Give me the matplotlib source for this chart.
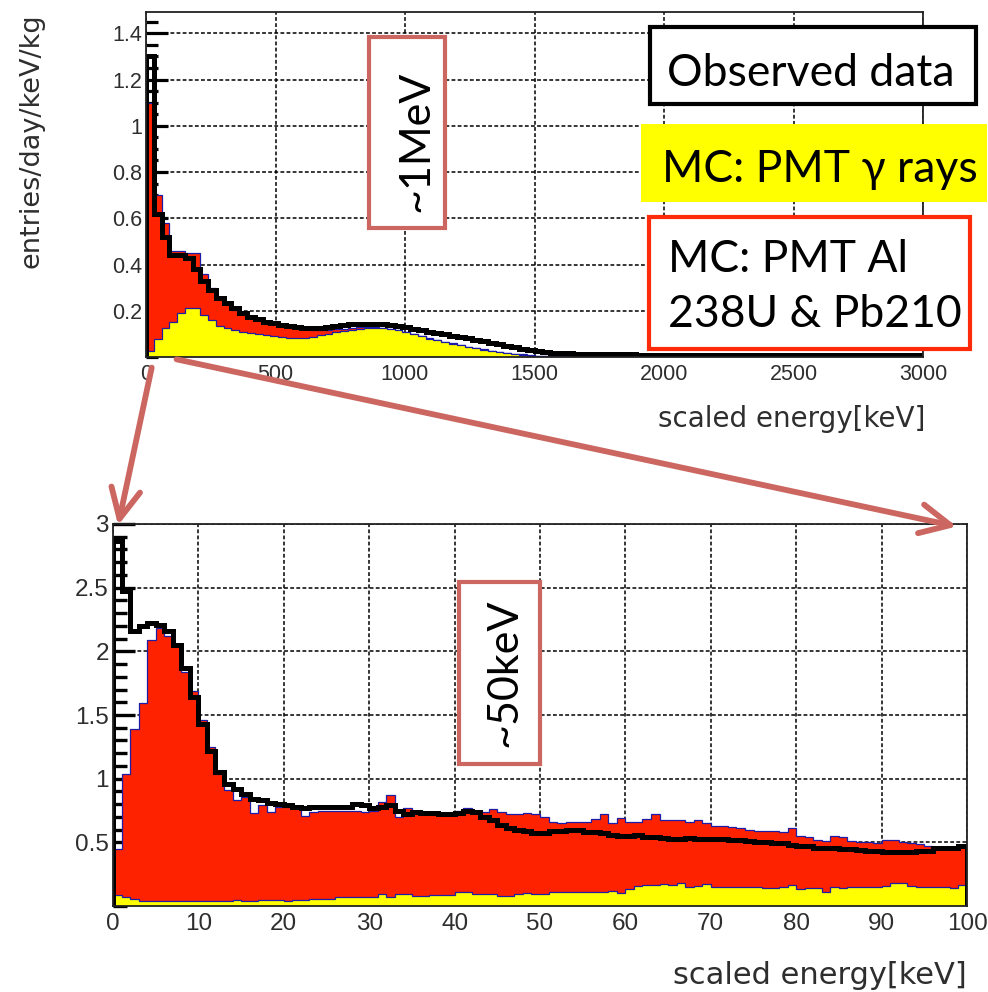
import numpy as np
import matplotlib
matplotlib.use("Agg")
import matplotlib.pyplot as plt
from matplotlib.patches import Rectangle, ConnectionPatch
from matplotlib.ticker import MultipleLocator

# ---------------- data: upper panel (30 keV bins, 0-3000 keV) ----------------
top_gamma = [0.026, 0.078, 0.127, 0.150, 0.190, 0.214, 0.214, 0.180, 0.160, 0.135,
             0.125, 0.115, 0.110, 0.105, 0.100, 0.095, 0.090, 0.086, 0.084, 0.082,
             0.083, 0.088, 0.093, 0.099, 0.106, 0.112, 0.118, 0.122, 0.125, 0.125,
             0.124, 0.120, 0.115, 0.106, 0.098, 0.090, 0.080, 0.072, 0.065, 0.058,
             0.051, 0.043, 0.037, 0.031, 0.026, 0.020, 0.016, 0.012, 0.009, 0.006,
             0.004, 0.003, 0.003, 0.002, 0.002, 0.001] + [0.0] * 44

top_total = [1.100, 0.700, 0.580, 0.460, 0.460, 0.450, 0.450, 0.360, 0.300, 0.260,
             0.230, 0.205, 0.185, 0.168, 0.158, 0.150, 0.143, 0.137, 0.130, 0.125,
             0.120, 0.117, 0.116, 0.117, 0.120, 0.123, 0.126, 0.129, 0.130, 0.129,
             0.127, 0.123, 0.118, 0.109, 0.100, 0.092, 0.082, 0.074, 0.067, 0.060,
             0.053, 0.045, 0.039, 0.033, 0.028, 0.022, 0.018, 0.014, 0.011, 0.008,
             0.006, 0.005, 0.004, 0.003, 0.003, 0.002, 0.002, 0.001, 0.001, 0.001] + [0.0] * 40

top_data = [1.300, 0.620, 0.520, 0.440, 0.440, 0.430, 0.380, 0.330, 0.290, 0.255,
            0.232, 0.210, 0.190, 0.175, 0.163, 0.153, 0.147, 0.140, 0.135, 0.130,
            0.127, 0.125, 0.126, 0.130, 0.135, 0.139, 0.142, 0.143, 0.143, 0.143,
            0.143, 0.140, 0.134, 0.128, 0.122, 0.116, 0.110, 0.104, 0.098, 0.092,
            0.087, 0.081, 0.074, 0.068, 0.062, 0.055, 0.048, 0.042, 0.036, 0.031,
            0.026, 0.022, 0.019, 0.017, 0.016, 0.014, 0.013, 0.012, 0.012, 0.011,
            0.011, 0.011, 0.011, 0.010, 0.010, 0.010, 0.010, 0.010, 0.009, 0.009,
            0.009, 0.009, 0.009, 0.009, 0.008, 0.008, 0.008, 0.008, 0.008, 0.008,
            0.008, 0.008, 0.008, 0.008, 0.007, 0.007, 0.007, 0.007, 0.007, 0.007,
            0.007, 0.007, 0.007, 0.007, 0.007, 0.007, 0.007, 0.007, 0.007, 0.007]

# ---------------- data: lower panel (1 keV bins, 0-100 keV) ----------------
low_gamma = [0.086, 0.070, 0.055, 0.042, 0.042, 0.042, 0.042, 0.042, 0.042, 0.042,
             0.042, 0.042, 0.042, 0.042, 0.050, 0.042, 0.042, 0.050, 0.045, 0.045,
             0.042, 0.050, 0.050, 0.052, 0.052, 0.052, 0.073, 0.073, 0.073, 0.073,
             0.073, 0.094, 0.073, 0.092, 0.092, 0.080, 0.080, 0.086, 0.086, 0.086,
             0.107, 0.107, 0.094, 0.094, 0.094, 0.080, 0.080, 0.094, 0.104, 0.094,
             0.094, 0.110, 0.110, 0.110, 0.110, 0.110, 0.110, 0.110, 0.117, 0.104,
             0.135, 0.157, 0.165, 0.165, 0.170, 0.165, 0.178, 0.152, 0.160, 0.170,
             0.146, 0.152, 0.146, 0.152, 0.146, 0.152, 0.139, 0.139, 0.146, 0.165,
             0.131, 0.139, 0.139, 0.113, 0.146, 0.139, 0.152, 0.152, 0.146, 0.152,
             0.157, 0.178, 0.183, 0.157, 0.146, 0.152, 0.152, 0.146, 0.139, 0.165]

low_total = [0.450, 1.040, 1.390, 1.595, 2.090, 2.180, 2.120, 2.060, 1.840, 1.690,
             1.460, 1.250, 1.040, 0.910, 0.830, 0.855, 0.727, 0.790, 0.740, 0.780,
             0.780, 0.780, 0.710, 0.740, 0.750, 0.750, 0.750, 0.750, 0.750, 0.740,
             0.750, 0.820, 0.870, 0.700, 0.770, 0.750, 0.740, 0.730, 0.730, 0.730,
             0.750, 0.770, 0.750, 0.740, 0.760, 0.740, 0.720, 0.720, 0.730, 0.720,
             0.700, 0.660, 0.648, 0.656, 0.656, 0.656, 0.680, 0.720, 0.648, 0.690,
             0.660, 0.660, 0.686, 0.720, 0.674, 0.674, 0.674, 0.660, 0.674, 0.648,
             0.627, 0.627, 0.620, 0.610, 0.596, 0.590, 0.590, 0.590, 0.583, 0.610,
             0.549, 0.544, 0.517, 0.510, 0.549, 0.540, 0.510, 0.505, 0.505, 0.497,
             0.517, 0.517, 0.502, 0.491, 0.483, 0.470, 0.460, 0.460, 0.460, 0.465]

low_data = [2.870, 2.470, 2.160, 2.200, 2.220, 2.210, 2.160, 2.050, 1.870, 1.640,
            1.430, 1.220, 1.050, 0.960, 0.920, 0.880, 0.840, 0.830, 0.810, 0.800,
            0.790, 0.780, 0.770, 0.780, 0.780, 0.780, 0.780, 0.780, 0.800, 0.790,
            0.770, 0.780, 0.790, 0.750, 0.720, 0.740, 0.730, 0.730, 0.720, 0.720,
            0.730, 0.750, 0.740, 0.700, 0.675, 0.635, 0.610, 0.600, 0.590, 0.570,
            0.575, 0.590, 0.590, 0.595, 0.595, 0.580, 0.580, 0.575, 0.557, 0.550,
            0.550, 0.557, 0.544, 0.544, 0.537, 0.530, 0.530, 0.537, 0.530, 0.530,
            0.523, 0.523, 0.517, 0.517, 0.510, 0.505, 0.505, 0.491, 0.491, 0.478,
            0.470, 0.470, 0.457, 0.457, 0.457, 0.444, 0.444, 0.439, 0.431, 0.431,
            0.426, 0.426, 0.426, 0.426, 0.431, 0.435, 0.452, 0.452, 0.452, 0.470]

top_xticks = [0, 500, 1000, 1500, 2000, 2500, 3000]
top_yticks = [0.2, 0.4, 0.6, 0.8, 1.0, 1.2, 1.4]
top_yticklabels = ["0.2", "0.4", "0.6", "0.8", "1", "1.2", "1.4"]
low_xticks = [0, 10, 20, 30, 40, 50, 60, 70, 80, 90, 100]
low_yticks = [0.5, 1.0, 1.5, 2.0, 2.5, 3.0]
low_yticklabels = ["0.5", "1", "1.5", "2", "2.5", "3"]

x_title = "scaled energy[keV]"
y_title = "entries/day/keV/kg"

# ---------------- style ----------------
RED = "#ff2200"
YEL = "#ffff00"
NAVY = "#1c1ca8"
SALMON = "#cc6660"
BOXRED = "#ff2a0a"
TICKCOL = "#2e2e2e"

plt.rcParams["font.family"] = ["Liberation Sans", "DejaVu Sans"]

W, H = 988, 992
fig = plt.figure(figsize=(W / 100, H / 100), dpi=100)


def fx(px):
    return px / W


def fy(py):
    return 1 - py / H


ax1 = fig.add_axes([fx(146), fy(357), (923 - 146) / W, (357 - 12) / H])
ax2 = fig.add_axes([fx(113), fy(906), (967 - 113) / W, (906 - 524) / H])


def draw_panel(ax, gamma, total, data, xmax):
    edges = np.linspace(0, xmax, len(total) + 1)
    ax.stairs(total, edges, fill=True, color=RED, lw=0, zorder=2)
    ax.stairs(total, edges, color=NAVY, lw=0.9, zorder=2.1)
    ax.stairs(gamma, edges, fill=True, color=YEL, lw=0, zorder=2.2)
    ax.stairs(gamma, edges, color=NAVY, lw=0.9, zorder=2.3)
    ax.stairs(data, edges, color="black", lw=3.6, zorder=3)
    ax.set_axisbelow(True)
    ax.grid(True, which="major", color="black", lw=1.1, linestyle=(0, (2.5, 1.5)))
    for s in ax.spines.values():
        s.set_linewidth(1.3)
        s.set_color("#222222")
        s.set_zorder(4)


draw_panel(ax1, top_gamma, top_total, top_data, 3000)
ax1.set_xlim(0, 3000)
ax1.set_ylim(0, 1.492)
ax1.set_xticks(top_xticks)
ax1.set_yticks(top_yticks)
ax1.set_yticklabels(top_yticklabels)
ax1.yaxis.set_minor_locator(MultipleLocator(0.05))
ax1.tick_params(axis="y", which="major", direction="in", length=16, width=2.3,
                color="black", pad=3, labelsize=15.5, labelcolor=TICKCOL)
ax1.tick_params(axis="y", which="minor", direction="in", length=8.5, width=2.3, color="black")
ax1.tick_params(axis="x", which="both", length=0, pad=5, labelsize=15.5, labelcolor=TICKCOL)

draw_panel(ax2, low_gamma, low_total, low_data, 100)
ax2.set_xlim(0, 100)
ax2.set_ylim(0, 3.0)
ax2.set_xticks(low_xticks)
ax2.set_yticks(low_yticks)
ax2.set_yticklabels(low_yticklabels)
ax2.yaxis.set_minor_locator(MultipleLocator(0.1))
ax2.tick_params(axis="y", which="major", direction="in", length=16, width=2.4,
                color="black", pad=3, labelsize=17.5, labelcolor=TICKCOL)
ax2.tick_params(axis="y", which="minor", direction="in", length=10, width=2.4, color="black")
ax2.tick_params(axis="x", which="both", length=0, pad=5, labelsize=17.5, labelcolor=TICKCOL)

# axis titles
fig.text(fx(32), fy(141), y_title, rotation=90, ha="center", va="center",
         fontsize=19.5, family=["DejaVu Sans"], color=TICKCOL)
fig.text(fx(925), fy(419), x_title, ha="right", va="center",
         fontsize=20, family=["DejaVu Sans"], color=TICKCOL)
fig.text(fx(967), fy(976), x_title, ha="right", va="center",
         fontsize=22, family=["DejaVu Sans"], color=TICKCOL)


# annotation boxes
def box(x0, y0, x1, y1, ec, fc="white", lw=3.0):
    r = Rectangle((fx(x0), fy(y1)), (x1 - x0) / W, (y1 - y0) / H,
                  transform=fig.transFigure, facecolor=fc, edgecolor=ec,
                  linewidth=lw, zorder=5)
    fig.add_artist(r)


LBL = ["Lato", "DejaVu Sans"]

box(650, 27, 976, 104, "black")
fig.text(fx(811), fy(86), "Observed data", ha="center", va="baseline",
         fontsize=32, family=LBL, zorder=6)

box(641, 124, 987, 202, "none", fc=YEL, lw=0)
fig.text(fx(662), fy(182), "MC: PMT \u03b3 rays", ha="left", va="baseline",
         fontsize=32, family=LBL, zorder=6)

box(649, 217, 970, 349, BOXRED)
fig.text(fx(668), fy(272), "MC: PMT Al", ha="left", va="baseline",
         fontsize=32, family=LBL, zorder=6)
fig.text(fx(668), fy(327), "238U & Pb210", ha="left", va="baseline",
         fontsize=32, family=LBL, zorder=6)

box(369, 37, 445, 228, SALMON)
fig.text(fx(416), fy(141), "~1MeV", rotation=90, ha="center", va="center",
         fontsize=31, family=LBL, zorder=6)

box(459, 582, 540, 764, SALMON)
fig.text(fx(504), fy(673), "~50keV", rotation=90, ha="center", va="center",
         fontsize=31, family=LBL, zorder=6)

# zoom arrows from the upper panel to the lower panel
arrow_style = "->,head_length=0.43,head_width=0.21"
con1 = ConnectionPatch(xyA=(22, -0.046), coordsA=ax1.transData,
                       xyB=(0.6, 2.99), coordsB=ax2.transData,
                       arrowstyle=arrow_style, mutation_scale=50,
                       lw=4.2, color=SALMON, zorder=8)
con2 = ConnectionPatch(xyA=(118, -0.01), coordsA=ax1.transData,
                       xyB=(98.8, 2.98), coordsB=ax2.transData,
                       arrowstyle=arrow_style, mutation_scale=50,
                       lw=4.2, color=SALMON, zorder=8)
fig.add_artist(con1)
fig.add_artist(con2)

fig.savefig("out.png", dpi=100)
